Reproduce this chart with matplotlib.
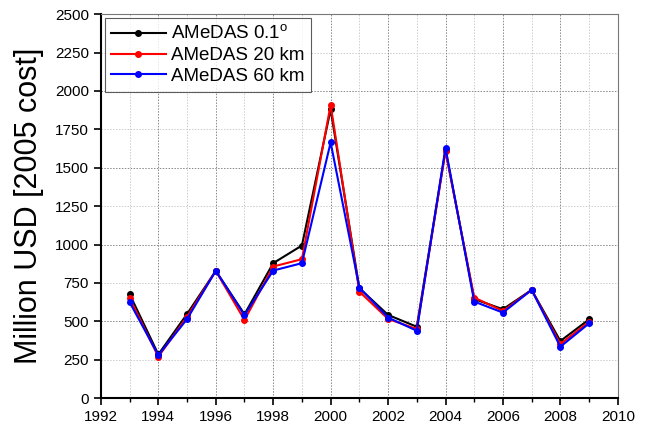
import matplotlib
matplotlib.use('Agg')
import matplotlib.pyplot as plt
from matplotlib.ticker import MultipleLocator

plt.rcParams['font.family'] = ['Liberation Sans', 'DejaVu Sans']

# Yearly losses
years = [1993, 1994, 1995, 1996, 1997, 1998, 1999, 2000, 2001,
         2002, 2003, 2004, 2005, 2006, 2007, 2008, 2009]
amedas_01deg = [677, 285, 548, 829, 546, 879, 994, 1880, 716,
                542, 465, 1615, 645, 579, 705, 372, 513]
amedas_20km = [651, 270, 530, 829, 509, 857, 905, 1910, 694,
               516, 450, 1608, 655, 568, 705, 352, 498]
amedas_60km = [625, 280, 515, 829, 540, 831, 879, 1665, 720,
               525, 439, 1630, 629, 557, 705, 335, 487]

labels = ['AMeDAS 0.1$^\\mathregular{o}$', 'AMeDAS 20 km', 'AMeDAS 60 km']
colors = ['black', 'red', 'blue']

fig, ax = plt.subplots(figsize=(6.51, 4.30), dpi=100)
fig.subplots_adjust(left=0.155, right=0.949, top=0.967, bottom=0.074)

for vals, lab, col in zip([amedas_01deg, amedas_20km, amedas_60km], labels, colors):
    ax.plot(years, vals, color=col, lw=1.5, marker='o', ms=4, label=lab)

ax.set_xlim(1992, 2010)
ax.set_ylim(0, 2500)
ax.xaxis.set_major_locator(MultipleLocator(2))
ax.xaxis.set_minor_locator(MultipleLocator(1))
ax.yaxis.set_major_locator(MultipleLocator(250))

# dotted grid, darker on every other line
for y in range(250, 2500, 250):
    shade = '#888888' if y % 500 == 0 else '#cccccc'
    ax.axhline(y, color=shade, lw=0.7, ls=(0, (1.5, 1.5)), zorder=0)
for x in range(1993, 2010):
    shade = '#888888' if x % 2 == 0 else '#cccccc'
    ax.axvline(x, color=shade, lw=0.7, ls=(0, (1.5, 1.5)), zorder=0)

for side in ['left', 'bottom']:
    ax.spines[side].set_linewidth(1.5)
for side in ['top', 'right']:
    ax.spines[side].set_color('#777777')
    ax.spines[side].set_linewidth(0.8)

ax.tick_params(which='major', direction='out', length=5, width=1.2, labelsize=11)
ax.tick_params(which='minor', direction='out', length=3, width=1.0)
ax.tick_params(axis='y', which='minor', left=False)

ax.set_ylabel('Million USD [2005 cost]', fontsize=22)
ax.yaxis.set_label_coords(-0.11, 0.5)

leg = ax.legend(loc='upper left', fontsize=13.5, frameon=True, fancybox=False,
                edgecolor='#333333', handlelength=2.9, borderpad=0.35,
                labelspacing=0.2, handletextpad=0.3, borderaxespad=0.2)
leg.get_frame().set_linewidth(0.8)

fig.savefig('out.png', dpi=100)
